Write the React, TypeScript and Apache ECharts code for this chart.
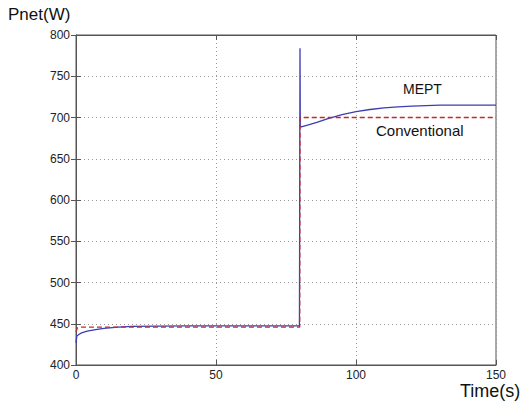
import React, { useEffect, useRef } from "react";
import * as echarts from "echarts";

const xTicks = [0, 50, 100, 150];
const yTicks = [400, 450, 500, 550, 600, 650, 700, 750, 800];

const meptTime = [0, 0.3, 1, 2, 4, 7, 10, 15, 20, 30, 40, 50, 60, 70, 79.8, 80, 80.1, 80.5, 83, 86, 90, 95, 100, 105, 110, 115, 120, 125, 130, 140, 150];
const meptPower = [427, 435, 437, 439, 441, 443, 444.5, 446, 446.8, 447.2, 447.5, 447.5, 447.5, 447.5, 447.5, 784, 690, 688.5, 691, 694, 698.5, 703.5, 707, 709.7, 711.6, 712.9, 713.8, 714.5, 714.9, 715, 715];

const convTime = [0, 0.5, 2, 10, 30, 50, 79.9, 80, 100, 150];
const convPower = [440, 445, 446, 446, 446, 446, 446, 700, 700, 700];

const FONT = "'Liberation Sans', Arial, sans-serif";

export default function App() {
  const ref = useRef<HTMLDivElement>(null);
  useEffect(() => {
    if (!ref.current) return;
    const chart = echarts.init(ref.current, undefined, { renderer: "svg" });
    const mept = meptTime.map((t, i) => [t, meptPower[i]]);
    const conv = convTime.map((t, i) => [t, convPower[i]]);
    const grid = { left: 76, top: 35, width: 420, height: 330 };
    chart.setOption({
      animation: false,
      backgroundColor: "#ffffff",
      grid: { ...grid, show: true, borderColor: "#555", borderWidth: 1, backgroundColor: "transparent" },
      xAxis: [
        {
          type: "value",
          min: xTicks[0],
          max: xTicks[xTicks.length - 1],
          interval: 50,
          axisLine: { show: true, lineStyle: { color: "#555", width: 1 } },
          axisTick: { show: true, inside: true, length: 5, lineStyle: { color: "#555" } },
          axisLabel: { color: "#222", fontFamily: FONT, fontSize: 12, margin: 4 },
          splitLine: { show: true, lineStyle: { color: "#999", type: [1, 3], width: 1 } },
        },
        {
          type: "value",
          position: "top",
          min: xTicks[0],
          max: xTicks[xTicks.length - 1],
          interval: 50,
          axisLine: { show: true, lineStyle: { color: "#555", width: 1 } },
          axisTick: { show: true, inside: true, length: 5, lineStyle: { color: "#555" } },
          axisLabel: { show: false },
          splitLine: { show: false },
        },
      ],
      yAxis: [
        {
          type: "value",
          min: yTicks[0],
          max: yTicks[yTicks.length - 1],
          interval: 50,
          axisLine: { show: true, lineStyle: { color: "#555", width: 1 } },
          axisTick: { show: true, inside: true, length: 5, lineStyle: { color: "#555" } },
          axisLabel: { color: "#222", fontFamily: FONT, fontSize: 12, margin: 6 },
          splitLine: { show: true, lineStyle: { color: "#999", type: [1, 3], width: 1 } },
        },
        {
          type: "value",
          position: "right",
          min: yTicks[0],
          max: yTicks[yTicks.length - 1],
          interval: 50,
          axisLine: { show: true, lineStyle: { color: "#555", width: 1 } },
          axisTick: { show: true, inside: true, length: 5, lineStyle: { color: "#555" } },
          axisLabel: { show: false },
          splitLine: { show: false },
        },
      ],
      series: [
        {
          name: "Conventional",
          type: "line",
          data: conv,
          showSymbol: false,
          lineStyle: { color: "#c8282d", width: 1.3, type: [5, 3] },
          z: 3,
        },
        {
          name: "MEPT",
          type: "line",
          data: mept,
          showSymbol: false,
          lineStyle: { color: "#3c3cb4", width: 1.3 },
          z: 2,
        },
      ],
      graphic: [
        { type: "text", left: 8, top: 6, style: { text: "Pnet(W)", fontFamily: FONT, fontSize: 17, fill: "#111" } },
        { type: "text", left: 460, top: 382, style: { text: "Time(s)", fontFamily: FONT, fontSize: 18, fill: "#111" } },
        { type: "text", left: 403, top: 82, style: { text: "MEPT", fontFamily: FONT, fontSize: 14, fill: "#111" } },
        { type: "text", left: 376, top: 123, style: { text: "Conventional", fontFamily: FONT, fontSize: 15, fill: "#111" } },
      ],
    });
    return () => chart.dispose();
  }, []);
  return <div ref={ref} style={{ position: "absolute", left: 0, top: 0, width: 520, height: 406 }} />;
}
